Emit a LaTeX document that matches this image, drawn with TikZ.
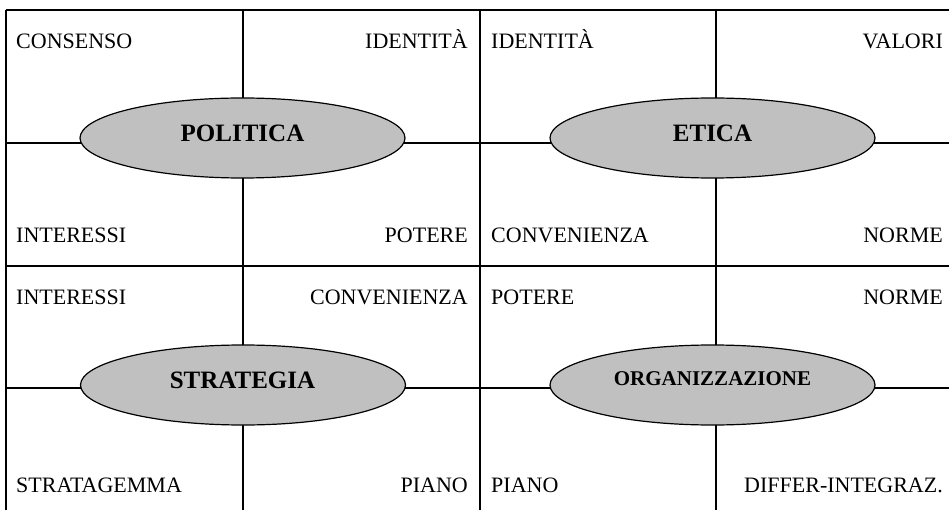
\documentclass[tikz,border=0pt]{standalone}
\usepackage{fontspec}
\setmainfont{Liberation Serif}
\usetikzlibrary{shapes.geometric}
\definecolor{ovalgray}{HTML}{C0C0C0}
\tikzset{
  gridline/.style={line width=2pt, black},
  oval/.style={ellipse, draw=black, line width=1.2pt, fill=ovalgray, minimum width=325pt, minimum height=80pt, inner sep=0pt},
  word/.style={inner sep=0pt, font=\fontsize{22}{26}\selectfont},
  titleword/.style={inner sep=0pt, anchor=base, font=\fontsize{25}{30}\selectfont\bfseries},
  smalltitle/.style={inner sep=0pt, anchor=base, font=\fontsize{21}{25}\selectfont\bfseries}
}
\begin{document}
\begin{tikzpicture}[x=1pt,y=-1pt]
\useasboundingbox (0,0) rectangle (949,510);
% grid coordinates
\coordinate (tl) at (6,10);   \coordinate (tr) at (949,10);
\coordinate (h1l) at (6,143); \coordinate (h1r) at (949,143);
\coordinate (h2l) at (6,266); \coordinate (h2r) at (949,266);
\coordinate (h3l) at (6,388); \coordinate (h3r) at (949,388);
\coordinate (v0t) at (6,10);  \coordinate (v0b) at (6,510);
\coordinate (v1t) at (243,10); \coordinate (v1b) at (243,510);
\coordinate (v2t) at (480,10); \coordinate (v2b) at (480,510);
\coordinate (v3t) at (716,10); \coordinate (v3b) at (716,510);
\draw[gridline] (tl) -- (tr);
\draw[gridline] (h1l) -- (h1r);
\draw[gridline] (h2l) -- (h2r);
\draw[gridline] (h3l) -- (h3r);
\draw[gridline] (v0t) -- (v0b);
\draw[gridline] (v1t) -- (v1b);
\draw[gridline] (v2t) -- (v2b);
\draw[gridline] (v3t) -- (v3b);
% ellipses
\node[oval] (pol) at (242.5,138) {};
\node[oval] (eti) at (712.5,138) {};
\node[oval] (str) at (243,385) {};
\node[oval] (org) at (712.5,385) {};
\node[titleword] (polt) at (242.5,142) {POLITICA};
\node[titleword] (etit) at (712.5,142) {ETICA};
\node[titleword] (strt) at (242.5,388) {STRATEGIA};
\node[smalltitle] (orgt) at (712.5,385) {ORGANIZZAZIONE};
% top-left quadrant
\node[word, anchor=base west] (a1) at (16,49) {CONSENSO};
\node[word, anchor=base east] (a2) at (468,49) {IDENTITÀ};
\node[word, anchor=base west] (a3) at (16,243) {INTERESSI};
\node[word, anchor=base east] (a4) at (468,243) {POTERE};
% top-right quadrant
\node[word, anchor=base west] (b1) at (491,49) {IDENTITÀ};
\node[word, anchor=base east] (b2) at (943,49) {VALORI};
\node[word, anchor=base west] (b3) at (491,243) {CONVENIENZA};
\node[word, anchor=base east] (b4) at (943,243) {NORME};
% bottom-left quadrant
\node[word, anchor=base west] (c1) at (16,304) {INTERESSI};
\node[word, anchor=base east] (c2) at (468,304) {CONVENIENZA};
\node[word, anchor=base west] (c3) at (16,492) {STRATAGEMMA};
\node[word, anchor=base east] (c4) at (468,492) {PIANO};
% bottom-right quadrant
\node[word, anchor=base west] (d1) at (491,304) {POTERE};
\node[word, anchor=base east] (d2) at (943,304) {NORME};
\node[word, anchor=base west] (d3) at (491,492) {PIANO};
\node[word, anchor=base east] (d4) at (943,492) {DIFFER-INTEGRAZ.};
\end{tikzpicture}
\end{document}
